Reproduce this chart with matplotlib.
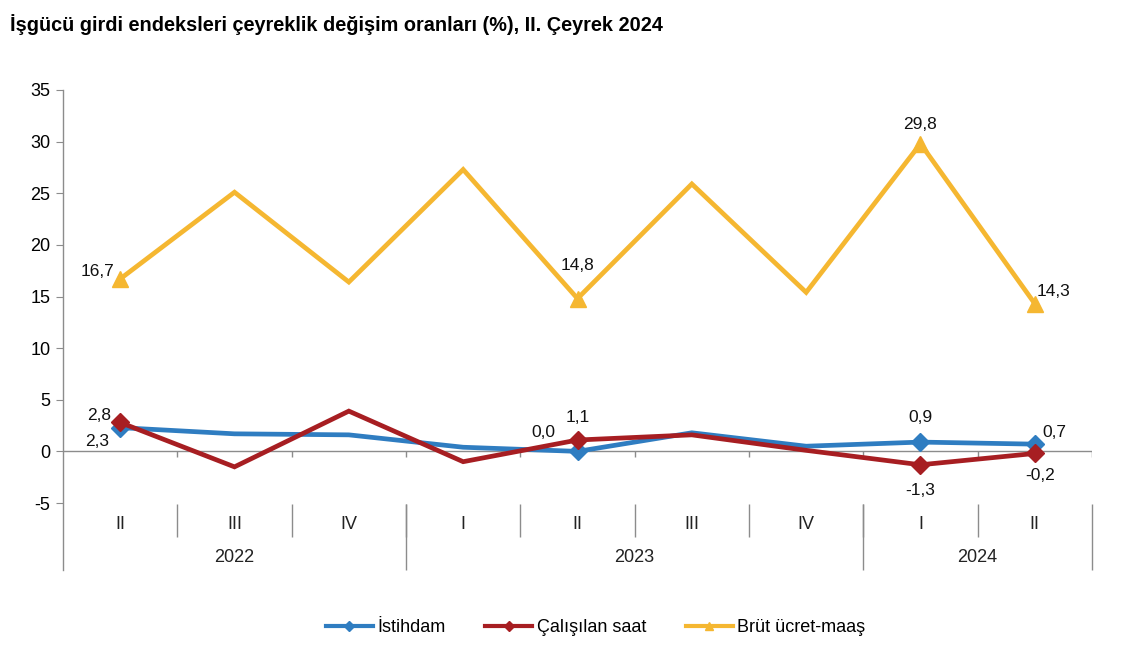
import numpy as np
import matplotlib.pyplot as plt
from matplotlib.lines import Line2D

plt.rcParams['font.family'] = ['Liberation Sans', 'DejaVu Sans']
plt.rcParams['axes.unicode_minus'] = False

quarters = ["II", "III", "IV", "I", "II", "III", "IV", "I", "II"]
years = ["2022", "2023", "2024"]
year_spans = [(0, 3), (3, 7), (7, 9)]

istihdam = [2.3, 1.7, 1.6, 0.4, 0.0, 1.8, 0.5, 0.9, 0.7]
calisilan = [2.8, -1.5, 3.9, -1.0, 1.1, 1.6, 0.1, -1.3, -0.2]
brut = [16.7, 25.1, 16.4, 27.3, 14.8, 25.9, 15.4, 29.8, 14.3]

marked = [0, 4, 7, 8]

c_blue = '#2F7DC1'
c_red = '#A71E22'
c_yel = '#F5B731'
grey = '#8C8C8C'

W, H = 1130, 667
fig = plt.figure(figsize=(W / 100, H / 100), dpi=100)
ax = fig.add_axes([63 / W, (H - 503) / H, (1092 - 63) / W, (503 - 90) / H])

x = np.arange(len(quarters))
ax.plot(x, istihdam, color=c_blue, lw=3.4, marker='D', ms=9, markevery=marked,
        solid_joinstyle='miter', zorder=3)
ax.plot(x, calisilan, color=c_red, lw=3.4, marker='D', ms=9, markevery=marked,
        solid_joinstyle='miter', zorder=4)
ax.plot(x, brut, color=c_yel, lw=3.4, marker='^', ms=12, markevery=marked,
        solid_joinstyle='miter', zorder=3)

ax.set_xlim(-0.5, 8.5)
ax.set_ylim(-5, 35)
ax.set_yticks(range(-5, 36, 5))
ax.set_xticks([])
for s in ['top', 'right', 'bottom', 'left']:
    ax.spines[s].set_visible(False)
ax.tick_params(axis='y', length=5, color=grey, labelsize=13, pad=4)

# y axis line extended down through the category area
ax.plot([-0.5, -0.5], [35, -11.45], color=grey, lw=1, clip_on=False)
# zero line with small ticks
ax.axhline(0, color=grey, lw=1, zorder=1)
ax.vlines(np.arange(0.5, 9.0, 1), 0, -0.5, color=grey, lw=1)

# category axis
for i in range(1, 9):
    ax.vlines(i - 0.5, -5.1, -8.3, color=grey, lw=1, clip_on=False)
for a, b in year_spans:
    ax.vlines(b - 0.5, -5.1, -11.45, color=grey, lw=1, clip_on=False)
for i, q in enumerate(quarters):
    ax.text(i, -7.05, q, ha='center', va='center', fontsize=13, color='#222222')
for (a, b), y in zip(year_spans, years):
    ax.text((a + b - 1) / 2, -10.25, y, ha='center', va='center', fontsize=13,
            color='#222222')


def fmt(v):
    return f"{v:.1f}".replace('.', ',')


labels = [
    (brut, 0, -0.2, 0.75, 'center'),
    (brut, 4, 0, 3.2, 'center'),
    (brut, 7, 0, 1.9, 'center'),
    (brut, 8, 0.02, 1.2, 'left'),
    (calisilan, 0, -0.18, 0.7, 'center'),
    (istihdam, 0, -0.2, -1.3, 'center'),
    (istihdam, 4, -0.3, 1.8, 'center'),
    (calisilan, 4, 0, 2.2, 'center'),
    (istihdam, 7, 0, 2.4, 'center'),
    (istihdam, 8, 0.07, 1.1, 'left'),
    (calisilan, 7, 0, -2.5, 'center'),
    (calisilan, 8, 0.05, -2.1, 'center'),
]
for series, i, dx, dy, ha in labels:
    ax.text(i + dx, series[i] + dy, fmt(series[i]), ha=ha, va='center',
            fontsize=12.5, color='#111111')

fig.text(10 / W, 1 - 25 / H, "İşgücü girdi endeksleri çeyreklik değişim oranları (%), II. Çeyrek 2024",
         fontsize=14.3, fontweight='bold', ha='left', va='center')

handles = [
    Line2D([], [], color=c_blue, lw=3, marker='D', ms=5),
    Line2D([], [], color=c_red, lw=3, marker='D', ms=5),
    Line2D([], [], color=c_yel, lw=3, marker='^', ms=6),
]
fig.legend(handles, ["İstihdam", "Çalışılan saat", "Brüt ücret-maaş"],
           loc='center', bbox_to_anchor=(0.527, 1 - 628 / H), ncol=3,
           frameon=False, fontsize=13, handlelength=2.6, handletextpad=0.25,
           columnspacing=2.2)

fig.savefig('out.png', dpi=100)
